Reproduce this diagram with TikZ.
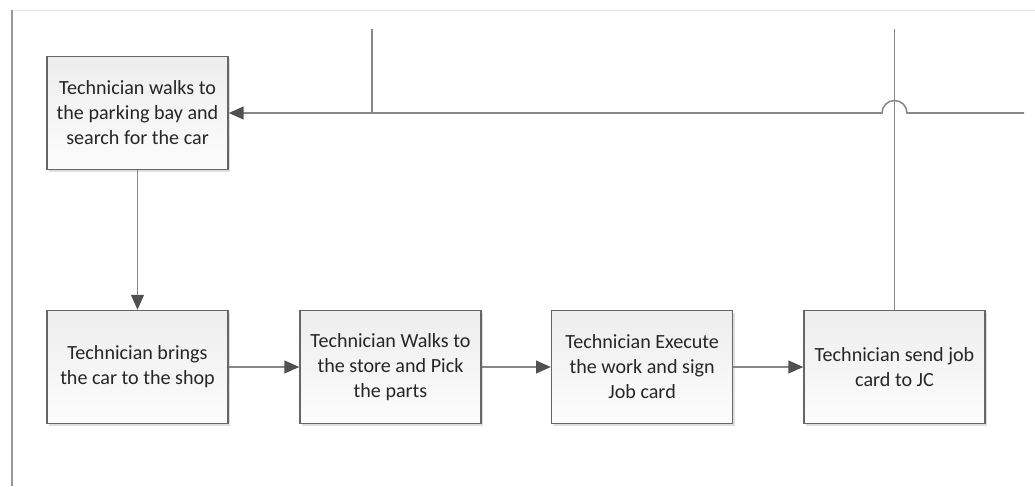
\documentclass[tikz,border=0pt]{standalone}
\usepackage{fontspec}
\setmainfont{Carlito}
\usetikzlibrary{shadows,arrows.meta,calc}
\definecolor{boxline}{HTML}{666666}
\definecolor{flowline}{HTML}{888888}
\definecolor{tiphead}{HTML}{505050}
\tikzstyle{activity}=[draw=boxline, line width=1.1pt, top color=black!7,
  bottom color=black!1, minimum width=4.525cm, minimum height=2.825cm,
  align=center, text=black!85, font=\fontsize{14.3}{17.8}\selectfont,
  drop shadow={opacity=0.25, shadow xshift=0.05cm, shadow yshift=-0.05cm}]
\tikzstyle{line} = [draw=flowline, line width=1.1pt,
  -{Triangle[length=0.37cm, width=0.32cm, color=tiphead]}]
\tikzstyle{wire} = [draw=flowline, line width=1.1pt]
\newcommand{\activity}[2]{node (p#1) [activity] {#2}}

\begin{document}
\begin{tikzpicture}
  \useasboundingbox (0,0) rectangle (25.875,-12.15);

  % page frame
  \draw[black!10, line width=0.6pt] (0.3,-0.25) -- (25.875,-0.25);
  \draw[black!40, line width=1.2pt] (0.3,-0.25) -- (0.3,-12.15);

  % Draw diagram elements
  \path (3.4375,-2.825) \activity{1}{Technician walks to\\the parking bay and\\search for the car};
  \path (p1)+(0.0,-6.35) \activity{2}{Technician brings\\the car to the shop};
  \path (p2)+(6.325,0.0) \activity{3}{Technician Walks to\\the store and Pick\\the parts};
  \path (p3)+(6.29,0.0) \activity{4}{Technician Execute\\the work and sign\\Job card};
  \path (p4)+(6.31,0.0) \activity{5}{Technician send job\\card to JC};

  % loose ends of the incoming lines
  \coordinate (in1) at (9.3,-0.725);
  \coordinate (in2) at (p5.north |- in1);
  \coordinate (rt) at (25.6,-2.825);
  \coordinate (hop) at (p5 |- p1);

  % Draw arrows between elements
  \path [line] (rt) -- ($(hop)+(0.3125,0.0)$)
    arc[start angle=0, end angle=180, radius=0.3125] -- (p1.east);
  \path [wire] (in1) -- (in1 |- p1);
  \path [wire] (in2) -- (p5.north);
  \path [line] (p1.south) -- (p2.north);
  \path [line] (p2.east) -- (p3.west);
  \path [line] (p3.east) -- (p4.west);
  \path [line] (p4.east) -- (p5.west);

\end{tikzpicture}
\end{document}
